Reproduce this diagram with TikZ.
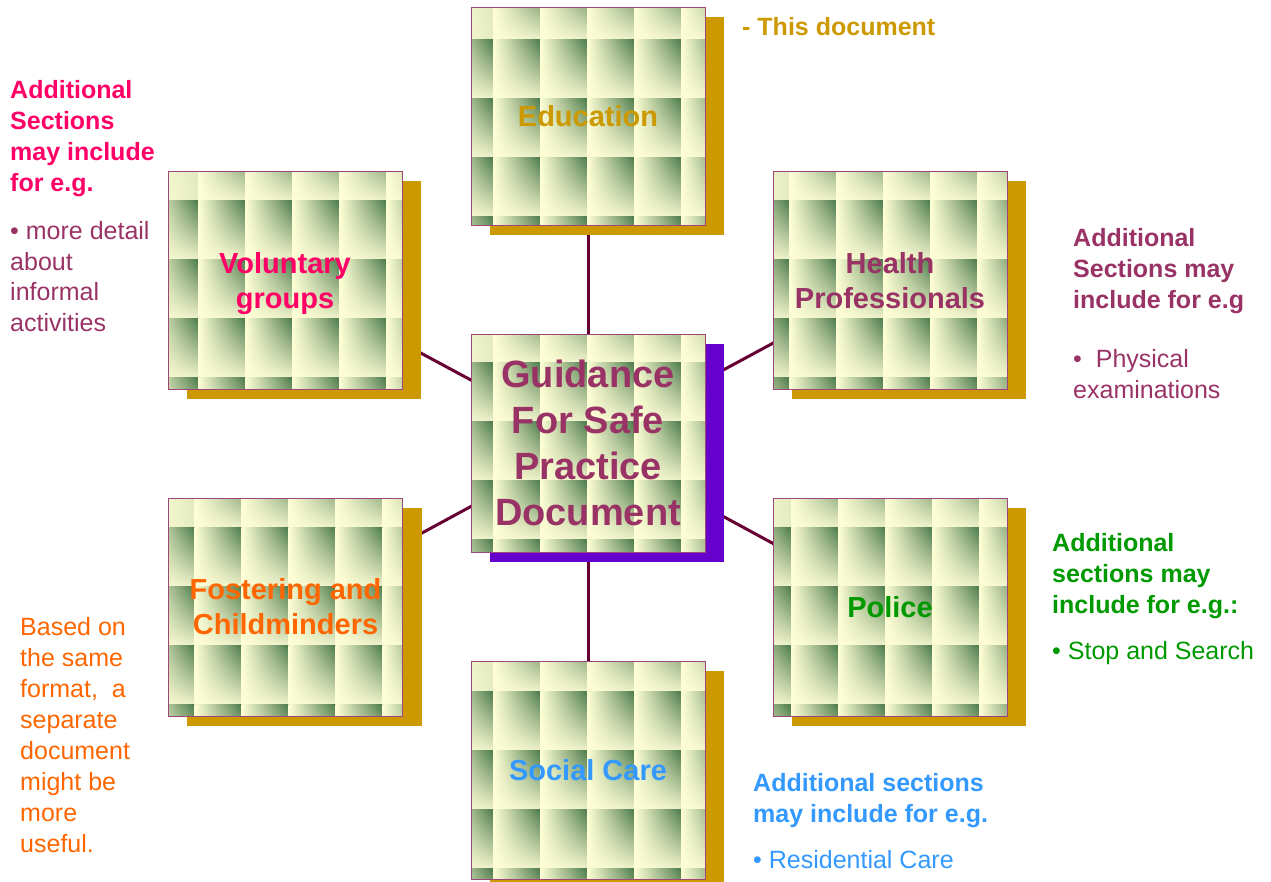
\documentclass[tikz,border=0pt]{standalone}
\usepackage{fontspec}
\setmainfont{Liberation Sans}
\usetikzlibrary{backgrounds,shadings}
\definecolor{gold}{HTML}{CC9900}
\definecolor{shpurple}{HTML}{6600CC}
\definecolor{conn}{HTML}{660033}
\definecolor{boxborder}{HTML}{A0457A}
\definecolor{pinkt}{HTML}{FF0066}
\definecolor{maroont}{HTML}{993366}
\definecolor{oranget}{HTML}{FF6600}
\definecolor{greent}{HTML}{009900}
\definecolor{bluet}{HTML}{3399FF}
\definecolor{tcream}{HTML}{FFFFD6}
\definecolor{tgreen}{HTML}{4A7A4A}
\definecolor{tcreamb}{HTML}{EDF0C8}
\newcommand\mytiles[2]{%
  \foreach \i in {0,...,5}{\foreach \j in {0,...,4}{%
    \shade[upper left=tcream, upper right=tgreen, lower left=tcream, lower right=tcreamb]
      ([xshift=(\i*47-47+#1)*1pt, yshift=-(\j*59-59+#2)*1pt]path picture bounding box.north west)
      rectangle ++(47pt,-59pt);
  }}}
\tikzset{
  tbox/.style={draw=boxborder, line width=0.8pt, minimum width=234pt, minimum height=218pt,
    inner sep=0pt, align=center, font=\fontsize{29}{35}\selectfont\bfseries},
  connline/.style={draw=conn, line width=3pt},
  note/.style={anchor=base west, align=left, inner sep=0pt},
  headf/.style={font=\fontsize{25}{31}\selectfont\bfseries},
  bodyf/.style={font=\fontsize{25}{31}\selectfont}
}
\begin{document}
\begin{tikzpicture}[x=1pt,y=-1pt]
\useasboundingbox (0,0) rectangle (1271,881);
% boxes
\node[tbox, path picture={\mytiles{22}{32}}, text=gold, text depth=-3pt] (edu) at (588,116) {Education};
\node[tbox, path picture={\mytiles{22}{28}}, text=maroont, font=\fontsize{38}{46}\selectfont\bfseries] (main) at (588,443) {Guidance\\For Safe\\Practice\\Document};
\node[tbox, path picture={\mytiles{30}{29}}, text=pinkt, text depth=-6pt] (vol) at (285,280) {Voluntary\\groups};
\node[tbox, path picture={\mytiles{16}{29}}, text=maroont, text depth=-2pt] (health) at (890,280) {Health\\Professionals};
\node[tbox, path picture={\mytiles{26}{29}}, text=oranget] (fost) at (285.5,607) {Fostering and\\Childminders};
\node[tbox, path picture={\mytiles{18}{29}}, text=greent] (police) at (890,607) {Police};
\node[tbox, path picture={\mytiles{22}{30}}, text=bluet] (social) at (588,770) {Social Care};
% connectors and shadows behind
\begin{scope}[on background layer]
  \draw[connline] (main.center) -- (edu.center);
  \draw[connline] (main.center) -- (social.center);
  \draw[connline] (main.center) -- (vol.center);
  \draw[connline] (main.center) -- (health.center);
  \draw[connline] (main.center) -- (fost.center);
  \draw[connline] (main.center) -- (police.center);
  \foreach \n in {edu,vol,health,fost,police,social}{
    \fill[gold] ([shift={(19pt,-10pt)}]\n.south west) rectangle ([shift={(19pt,-10pt)}]\n.north east);
  }
  \fill[shpurple] ([shift={(19pt,-10pt)}]main.south west) rectangle ([shift={(19pt,-10pt)}]main.north east);
\end{scope}
% notes (anchor = baseline of the last line)
\node[note, headf, text=gold] (thisdoc) at (742,35) {- This document};
\node[note, headf, text=pinkt] (volhead) at (10,191) {Additional\\Sections\\may include\\for e.g.};
\node[note, bodyf, text=maroont, font=\fontsize{25}{30.5}\selectfont] (volbody) at (10,331) {\textbullet\ more detail\\about\\informal\\activities};
\node[note, headf, text=maroont] (healthhead) at (1073,308) {Additional\\Sections may\\include for e.g};
\node[note, bodyf, text=maroont] (healthbody) at (1073,398) {\textbullet\ \ Physical\\examinations};
\node[note, headf, text=greent] (policehead) at (1052,613) {Additional\\sections may\\include for e.g.:};
\node[note, bodyf, text=greent] (policebody) at (1052,659) {\textbullet\ Stop and Search};
\node[note, headf, text=bluet] (socialhead) at (753,822) {Additional sections\\may include for e.g.};
\node[note, bodyf, text=bluet] (socialbody) at (753,868) {\textbullet\ Residential Care};
\node[note, bodyf, text=oranget] (fostnote) at (20,852) {Based on\\the same\\format,\ \ a\\separate\\document\\might be\\more\\useful.};
\end{tikzpicture}
\end{document}
